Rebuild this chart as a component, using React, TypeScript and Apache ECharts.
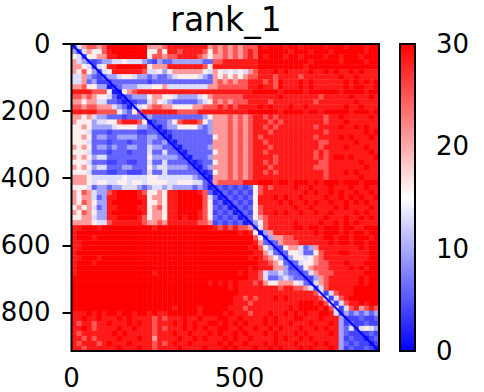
import React, { useEffect, useRef } from "react";
import * as echarts from "echarts";

const title = "rank_1";
const cellSize = 15;
const matrixCols = 61;
const xTicks = [0, 500];
const yTicks = [0, 200, 400, 600, 800];
const colorbarTicks = [0, 10, 20, 30];
const matrixMax = 915;
const diagonal = [[0, 0], [915, 915]];
const colorStops = ["#0000ff", "#ffffff", "#ff0000"];
const colorRange = [0, 30];
// value of each digit used in the rows below
const levels = [1.5, 4, 6, 9.5, 13, 16, 21, 25, 28.5, 30];
// one digit per 15x15 residues; short rows continue as saturated red
const rows = [
  "1467767 99999999 6667 888888886 767676777 989998998999989998999899",
  "3146557 89999999 5575 887888875 767676787 999999899989998999999899",
  "5415566 88999999 5776 778888765 667676787 989998998999989989998999",
  "6432123 34454443 2132 233333322 778888888 999999999989999989999899",
  "6654145 88999998 5666 888888875 888888888 999999999899999999999999",
  "6575314 58888887 4453 566666654 654545467 888989888898898988989888",
  "4463212 33455433 2322 345555432 656565677 888788887888888898898888",
  "4462311 12222222 1222 222222222 676767788 878798889898888889898989",
  "6675533 01233344 4556 444444446 677777788 988798889898888889899889",
  "8888777 50056788 8888 888888888 888888889 999989999899999989999899",
  "7767655 42012333 5665 543333456 777777888 888898888888788888988898",
  "6656644 22101122 4654 322222345 767677788 887888888887888888898888",
  "7767766 64320345 6776 655556677 787878888 989888988988888889889888",
  "8888877 77532578 8888 887777888 888888899 999989999899899999899989",
  "6656433 22212222 3222 222222235 666767678 878788888888878898888898",
  "6555344 55788875 0122 357888753 666767678 887878888888878889888888",
  "5565333 34555533 2102 335555323 666767678 878788888887888898898988",
  "5554222 12222211 2210 122222223 666767678 887888888888878888888989",
  "5565233 22333322 3321 022222222 566767678 788888888887888898988898",
  "5554222 12221222 3223 102222222 666767678 878888888888778888898888",
  "6565233 23223322 4332 210222223 666767678 887888888888788889888988",
  "5554222 12221222 4224 221022222 566767678 878888888887878888888898",
  "6565344 22222222 5333 332102223 666767678 888788888887878998988889",
  "5554222 11221122 4224 222210122 566767678 878788888888778888889888",
  "6565344 22233222 5344 333321023 666767678 887888888887778888888988",
  "5554222 11221112 4224 222222101 566767678 878788888888878889898888",
  "6665444 44454444 5544 444443210 666767678 888888888888878888889888",
  "6665455 44554554 5555 445554421 677777888 999899899989899989998999",
  "5554233 23344432 3443 433332320 121212125 787888898898889888988988",
  "6576433 78999987 5565 889999872 012121215 788888888989889898898898",
  "6566423 88999988 5665 889999974 201212125 888989889888898898989889",
  "6576533 89999998 5565 889999975 120121215 888898988989889889898988",
  "5656423 88999988 5675 889999975 212012125 788888898898888989888898",
  "6576533 89999998 5665 889999875 121201215 788989889889889888898988",
  "5566433 88999987 5665 889899875 212120125 678888888888898889889898",
  "6666544 78888887 6676 888888776 121212013 578888898888988989898888",
  "8899989 99999999 9899 999999999 878787762 478888899899899989988999",
  "8999999 99999999 9999 999999999 999998985 036888888889899989899899",
  "8999899 99999999 9999 999999999 999999997 513667788888899899899989",
  "8899999 99999999 9999 999999999 999999998 621267778888889899899899",
  "8899999 99999999 9999 999999999 999999989 753115664236888888889899",
  "8999999 99999999 9999 999999999 999999998 864212554225788899888899",
  "8899989 99999999 9999 999999999 999999989 876531355456788888888899",
  "8999899 99999999 9999 999999999 999999999 887652124556778889888999",
  "8999999 99999999 9999 999999999 999999989 888663112567778888989899",
  "8999999 99999999 9899 999999999 999998988 743343221246777888888999",
  "9999999 99999999 9999 999999999 999999988 742234322113678888889899",
  "9999999 99999999 9999 999999998 989898887 865566654214678888889899",
  "9999999 99999999 9999 999999999 999898888 888878877641478888899999",
  "9999999 99999999 9999 999999999 999998888 888888888887414788899999",
  "9999999 99999999 9999 999999999 999988787 888989888888741478999999",
  "9999999 99999999 9999 999999999 999988878 888888889998974147889899",
  "9999999 99999999 9999 989999899 999888788 888888989999897414786787",
  "8889898 99899899 8988 999999899 998988878 889889898988998413232323",
  "8898898 88989888 8787 888988988 899889888 898988899888988831112112",
  "8788788 98889898 8788 898989889 989898988 898988988898889831211211",
  "8898788 88988988 8787 888989898 899889889 889898889889898832414543",
  "8788888 89898888 8788 898898889 898898988 898988898988889832111121",
  "8878788 88988898 8688 889889898 889898898 888989889898888831211012",
  "8788878 98889888 8787 898898888 898988988 898988898889898832121101",
  "8878888 88988898 8788 889888898 889898889 889898889898889831211210",
];
const cells: number[][] = [];
rows.forEach((row, r) => {
  const digits = row.replace(/ /g, "").padEnd(matrixCols, "9");
  for (let c = 0; c < matrixCols; c++) cells.push([c * cellSize, r * cellSize, levels[Number(digits[c])]]);
});

const FONT = "DejaVu Sans";
const axisBase = (ticks: number[], margin: number) => ({
  axisLine: { show: false },
  axisTick: { show: true, length: 9, customValues: ticks, lineStyle: { color: "#000", width: 2 } },
  axisLabel: { color: "#000", fontFamily: FONT, fontSize: 26, lineHeight: 20, margin, customValues: ticks, hideOverlap: false },
  splitLine: { show: false },
});

export default function App() {
  const ref = useRef<HTMLDivElement>(null);
  useEffect(() => {
    const chart = echarts.init(ref.current!, null, { renderer: "svg" });
    chart.setOption({
      animation: false,
      backgroundColor: "#fff",
      title: {
        text: title, left: 221, top: -2, textAlign: "center",
        textStyle: { color: "#000", fontFamily: FONT, fontSize: 33, fontWeight: "normal" },
      },
      grid: [
        { left: 71.5, top: 44, width: 307.5, height: 307, outerBoundsMode: "none" },
        { left: 400, top: 44, width: 15, height: 307, outerBoundsMode: "none" },
      ],
      xAxis: [
        { type: "value", gridIndex: 0, min: 0, max: matrixMax, position: "bottom", ...axisBase(xTicks, 17) },
        { type: "value", gridIndex: 1, min: 0, max: 1, show: false },
      ],
      yAxis: [
        { type: "value", gridIndex: 0, min: 0, max: matrixMax, inverse: true, position: "left", ...axisBase(yTicks, 21) },
        { type: "value", gridIndex: 1, min: colorRange[0], max: colorRange[1], position: "right", ...axisBase(colorbarTicks, 21) },
      ],
      visualMap: {
        show: false, type: "continuous", seriesIndex: 0, dimension: 2,
        min: colorRange[0], max: colorRange[1], inRange: { color: colorStops },
      },
      series: [
        {
          type: "custom", xAxisIndex: 0, yAxisIndex: 0, data: cells, clip: true,
          encode: { x: 0, y: 1 },
          renderItem: (_: any, api: any) => {
            const a = api.coord([api.value(0), api.value(1)]);
            const b = api.coord([api.value(0) + cellSize, api.value(1) + cellSize]);
            return {
              type: "rect",
              shape: { x: a[0], y: a[1], width: b[0] - a[0] + 0.4, height: b[1] - a[1] + 0.4 },
              style: { fill: api.visual("color") },
            };
          },
        },
        {
          type: "line", xAxisIndex: 0, yAxisIndex: 0, data: diagonal, symbol: "none", silent: true,
          lineStyle: { color: "#0000ff", width: 2 },
        },
        {
          type: "custom", xAxisIndex: 1, yAxisIndex: 1, data: [[0, colorRange[1], 1, colorRange[0]]],
          encode: { x: 0, y: 1 },
          renderItem: (_: any, api: any) => {
            const a = api.coord([api.value(0), api.value(1)]);
            const b = api.coord([api.value(2), api.value(3)]);
            return {
              type: "rect",
              shape: { x: a[0], y: a[1], width: b[0] - a[0], height: b[1] - a[1] },
              style: {
                stroke: "#000", lineWidth: 2,
                fill: new echarts.graphic.LinearGradient(0, 1, 0, 0, colorStops.map((color, i) => ({ offset: i / 2, color }))),
              },
            };
          },
        },
      ],
      graphic: [
        { type: "rect", z: 100, shape: { x: 71.5, y: 44, width: 307.5, height: 307 }, style: { fill: "none", stroke: "#000", lineWidth: 2 }, silent: true },
      ],
    });
    return () => chart.dispose();
  }, []);
  return <div ref={ref} style={{ position: "fixed", left: 0, top: 0, width: 484, height: 392 }} />;
}
